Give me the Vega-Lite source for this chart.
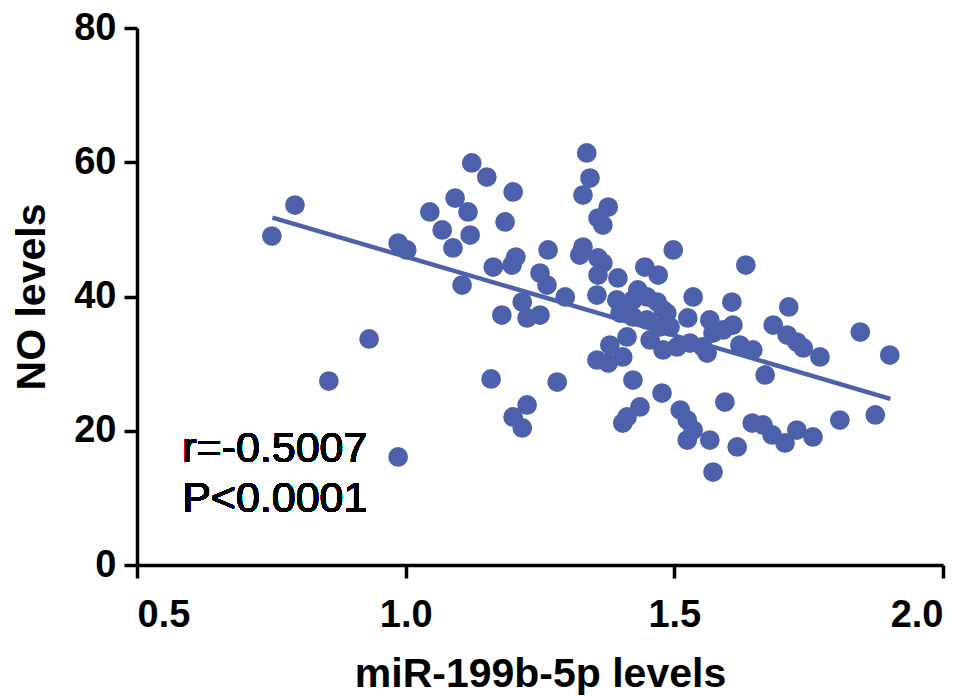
{
  "$schema": "https://vega.github.io/schema/vega-lite/v6.json",
  "autosize": "none",
  "width": 806,
  "height": 537,
  "padding": {"left": 137, "top": 28, "right": 28, "bottom": 131},
  "background": "white",
  "config": {
    "view": {"stroke": null},
    "font": "Liberation Sans",
    "axis": {
      "grid": false,
      "domainColor": "#000000",
      "domainWidth": 3.5,
      "tickColor": "#000000",
      "tickWidth": 3.5,
      "tickSize": 13,
      "labelFont": "Liberation Sans",
      "labelFontWeight": "bold",
      "labelFontSize": 38,
      "labelColor": "#000000",
      "titleFont": "Liberation Sans",
      "titleFontWeight": "bold",
      "titleFontSize": 41,
      "titleColor": "#000000",
      "titlePadding": 20
    }
  },
  "data": {
    "values": [
      {"mir": 0.751, "no": 49.01}, {"mir": 0.794, "no": 53.63}, {"mir": 0.857, "no": 27.41}, {"mir": 0.932, "no": 33.67},
      {"mir": 0.986, "no": 16.09}, {"mir": 0.986, "no": 47.97}, {"mir": 1.002, "no": 46.93}, {"mir": 1.045, "no": 52.59},
      {"mir": 1.068, "no": 49.91}, {"mir": 1.092, "no": 54.67}, {"mir": 1.088, "no": 47.23}, {"mir": 1.105, "no": 41.71},
      {"mir": 1.116, "no": 52.59}, {"mir": 1.120, "no": 49.16}, {"mir": 1.123, "no": 59.89}, {"mir": 1.151, "no": 57.80},
      {"mir": 1.159, "no": 27.71}, {"mir": 1.163, "no": 44.39}, {"mir": 1.179, "no": 37.24}, {"mir": 1.185, "no": 51.10},
      {"mir": 1.198, "no": 44.69}, {"mir": 1.200, "no": 55.57}, {"mir": 1.205, "no": 45.88}, {"mir": 1.200, "no": 22.05},
      {"mir": 1.217, "no": 20.41}, {"mir": 1.217, "no": 39.18}, {"mir": 1.226, "no": 23.84}, {"mir": 1.226, "no": 36.80},
      {"mir": 1.250, "no": 43.50}, {"mir": 1.263, "no": 41.71}, {"mir": 1.250, "no": 37.24}, {"mir": 1.265, "no": 46.93},
      {"mir": 1.282, "no": 27.26}, {"mir": 1.297, "no": 39.93}, {"mir": 1.330, "no": 55.12}, {"mir": 1.337, "no": 61.38},
      {"mir": 1.343, "no": 57.65}, {"mir": 1.377, "no": 53.33}, {"mir": 1.358, "no": 51.69}, {"mir": 1.367, "no": 50.65},
      {"mir": 1.330, "no": 47.37}, {"mir": 1.324, "no": 46.18}, {"mir": 1.358, "no": 45.74}, {"mir": 1.367, "no": 44.99},
      {"mir": 1.358, "no": 43.20}, {"mir": 1.395, "no": 42.76}, {"mir": 1.445, "no": 44.39}, {"mir": 1.470, "no": 43.20},
      {"mir": 1.498, "no": 46.93}, {"mir": 1.356, "no": 40.22}, {"mir": 1.393, "no": 39.48}, {"mir": 1.432, "no": 40.97},
      {"mir": 1.449, "no": 39.93}, {"mir": 1.468, "no": 39.18}, {"mir": 1.479, "no": 37.99}, {"mir": 1.535, "no": 39.93},
      {"mir": 1.399, "no": 37.54}, {"mir": 1.423, "no": 36.95}, {"mir": 1.449, "no": 36.50}, {"mir": 1.473, "no": 35.46},
      {"mir": 1.525, "no": 36.80}, {"mir": 1.566, "no": 36.50}, {"mir": 1.591, "no": 35.01}, {"mir": 1.607, "no": 39.18},
      {"mir": 1.412, "no": 33.97}, {"mir": 1.380, "no": 32.77}, {"mir": 1.356, "no": 30.54}, {"mir": 1.377, "no": 30.09},
      {"mir": 1.404, "no": 30.99}, {"mir": 1.455, "no": 33.52}, {"mir": 1.479, "no": 32.03}, {"mir": 1.505, "no": 32.48},
      {"mir": 1.529, "no": 33.07}, {"mir": 1.561, "no": 31.58}, {"mir": 1.572, "no": 34.56}, {"mir": 1.423, "no": 27.56},
      {"mir": 1.477, "no": 25.62}, {"mir": 1.436, "no": 23.54}, {"mir": 1.412, "no": 22.05}, {"mir": 1.404, "no": 21.15},
      {"mir": 1.511, "no": 23.09}, {"mir": 1.524, "no": 21.60}, {"mir": 1.535, "no": 20.11}, {"mir": 1.566, "no": 18.62},
      {"mir": 1.524, "no": 18.62}, {"mir": 1.572, "no": 13.85}, {"mir": 1.594, "no": 24.28}, {"mir": 1.633, "no": 44.69},
      {"mir": 1.713, "no": 38.44}, {"mir": 1.609, "no": 35.75}, {"mir": 1.684, "no": 35.75}, {"mir": 1.710, "no": 34.26},
      {"mir": 1.728, "no": 33.22}, {"mir": 1.846, "no": 34.71}, {"mir": 1.901, "no": 31.28}, {"mir": 1.740, "no": 32.33},
      {"mir": 1.771, "no": 30.99}, {"mir": 1.622, "no": 32.77}, {"mir": 1.646, "no": 32.03}, {"mir": 1.669, "no": 28.31},
      {"mir": 1.617, "no": 17.58}, {"mir": 1.645, "no": 21.15}, {"mir": 1.665, "no": 20.86}, {"mir": 1.682, "no": 19.37},
      {"mir": 1.706, "no": 18.18}, {"mir": 1.728, "no": 20.11}, {"mir": 1.758, "no": 19.07}, {"mir": 1.808, "no": 21.60},
      {"mir": 1.874, "no": 22.35}, {"mir": 1.423, "no": 39.48}, {"mir": 1.486, "no": 37.54}, {"mir": 1.492, "no": 35.46},
      {"mir": 1.553, "no": 32.48}
    ]
  },
  "encoding": {
    "x": {
      "field": "mir", "type": "quantitative",
      "scale": {"domain": [0.5, 2.0], "nice": false, "zero": false},
      "axis": {"title": "miR-199b-5p levels", "values": [0.5, 1.0, 1.5, 2.0], "format": ".1f", "labelPadding": 18}
    },
    "y": {
      "field": "no", "type": "quantitative",
      "scale": {"domain": [0, 80], "nice": false},
      "axis": {"title": "NO levels", "values": [0, 20, 40, 60, 80], "labelPadding": 8}
    }
  },
  "layer": [
    {
      "mark": {"type": "point", "shape": "circle", "filled": true, "size": 390, "color": "#4c60ac", "opacity": 1}
    },
    {
      "transform": [{"regression": "no", "on": "mir", "extent": [0.752, 1.902]}],
      "mark": {"type": "line", "color": "#4c60ac", "strokeWidth": 4.5}
    },
    {
      "mark": {"type": "text", "text": "r=-0.5007", "align": "left", "baseline": "alphabetic", "fontSize": 43, "font": "Liberation Sans", "color": "#000000"},
      "encoding": {"x": {"datum": 0.584}, "y": {"datum": 15.35}}
    },
    {
      "mark": {"type": "text", "text": "P<0.0001", "align": "left", "baseline": "alphabetic", "fontSize": 43, "font": "Liberation Sans", "color": "#000000"},
      "encoding": {"x": {"datum": 0.584}, "y": {"datum": 7.9}}
    }
  ]
}
